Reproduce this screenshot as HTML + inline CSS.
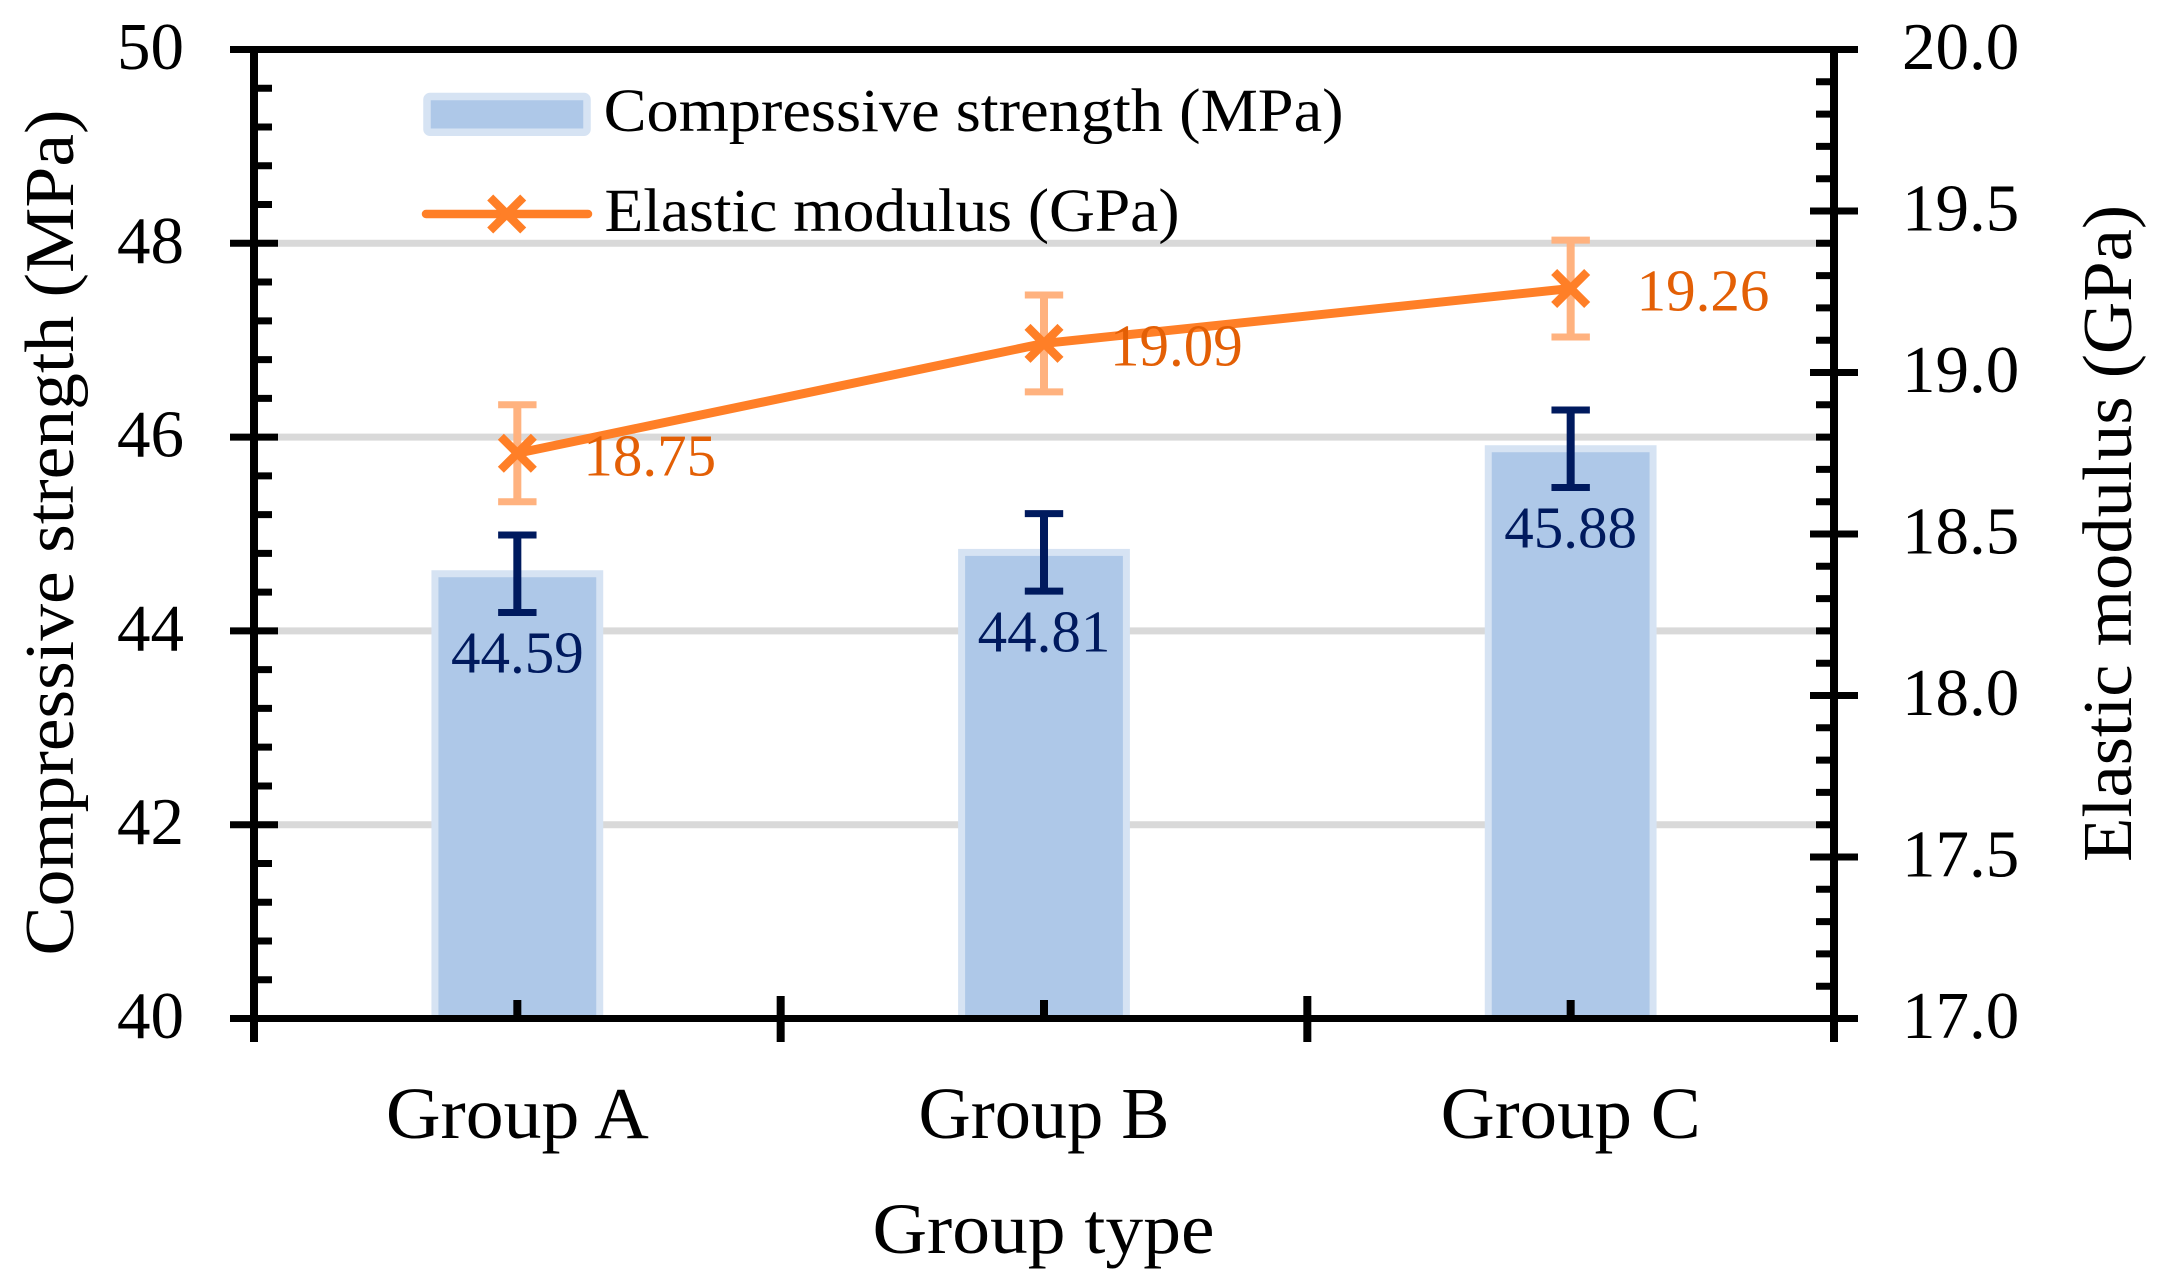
<!DOCTYPE html>
<html lang="en">
<head>
<meta charset="utf-8">
<title>Compressive strength and elastic modulus by group</title>
<style>
  html, body { margin: 0; padding: 0; background: #fff; width: 2160px; height: 1282px; overflow: hidden; }
  svg { display: block; }
  text { font-family: "Liberation Serif", serif; fill: #000; }
</style>
</head>
<body>
<svg id="chart" xmlns="http://www.w3.org/2000/svg" width="2160" height="1282" viewBox="0 0 2160 1282">
  <g id="grid"></g>
  <g id="bars"></g>
  <g id="barErrors"></g>
  <g id="lineErrors"></g>
  <g id="lineLayer"></g>
  <g id="axes"></g>
  <g id="labels"></g>

  <text transform="translate(73,532.5) rotate(-90)" text-anchor="middle" font-size="70" textLength="846" lengthAdjust="spacingAndGlyphs">Compressive strength (MPa)</text>
  <text transform="translate(2131,533.5) rotate(-90)" text-anchor="middle" font-size="70" textLength="657" lengthAdjust="spacingAndGlyphs">Elastic modulus (GPa)</text>
  <text x="1043.5" y="1253" text-anchor="middle" font-size="72" textLength="342" lengthAdjust="spacingAndGlyphs">Group type</text>

  <g>
    <g>
      <rect x="427" y="96.5" width="160" height="35.7" rx="3" fill="#aec8e8" stroke="#d6e3f3" stroke-width="7.5"/>
      <text x="603.6" y="131" font-size="61" textLength="740" lengthAdjust="spacingAndGlyphs">Compressive strength (MPa)</text>
    </g>
    <g>
      <line x1="426" y1="214" x2="588" y2="214" stroke="#ff7f27" stroke-width="8.5" stroke-linecap="round"/>
      <path d="M490.2 197.5L523.2 230.5M523.2 197.5L490.2 230.5" fill="none" stroke="#ff7f27" stroke-width="8.5"/>
      <text x="604.5" y="231" font-size="61" textLength="575" lengthAdjust="spacingAndGlyphs">Elastic modulus (GPa)</text>
    </g>
  </g>
</svg>

<script>
// Chart data
var categories = ['Group A', 'Group B', 'Group C'];
var strengthValues = [44.59, 44.81, 45.88];
var strengthErrors = [0.4, 0.4, 0.4];
var modulusValues = [18.75, 19.09, 19.26];
var modulusErrors = [0.15, 0.15, 0.15];
var leftTickLabels = ['40', '42', '44', '46', '48', '50'];
var rightTickLabels = ['17.0', '17.5', '18.0', '18.5', '19.0', '19.5', '20.0'];

// Axis functions
var plotLeft = 254, plotRight = 1834, plotTop = 49.5, plotBottom = 1018.5;
function yLeft(v) { return plotBottom + (v - 40) / 10 * (plotTop - plotBottom); }
function yRight(v) { return plotBottom + (v - 17) / 3 * (plotTop - plotBottom); }
function xBand(i) { return plotLeft + (i + 0.5) * (plotRight - plotLeft) / categories.length; }

var NS = 'http://www.w3.org/2000/svg';
function make(tag, attrs, parent) {
  var n = document.createElementNS(NS, tag);
  for (var k in attrs) n.setAttribute(k, attrs[k]);
  parent.appendChild(n);
  return n;
}
var grid = document.getElementById('grid');
var bars = document.getElementById('bars');
var barErrors = document.getElementById('barErrors');
var lineErrors = document.getElementById('lineErrors');
var lineLayer = document.getElementById('lineLayer');
var axes = document.getElementById('axes');
var labels = document.getElementById('labels');
var el;

// Gridlines
[42, 44, 46, 48].forEach(function (v) {
  el = make('line', { x1: plotLeft, x2: plotRight, y1: yLeft(v), y2: yLeft(v), stroke: '#d9d9d9', 'stroke-width': 7 }, grid);
  
  
});

function errorBar(parent, x, yTop, yBottom, color, name) {
  var stem = make('line', { x1: x, x2: x, y1: yTop, y2: yBottom, stroke: color, 'stroke-width': 8 }, parent);
  
  
  var d = 'M' + (x - 19.2) + ' ' + yTop + 'H' + (x + 19.2) +
          'M' + (x - 19.2) + ' ' + yBottom + 'H' + (x + 19.2);
  var caps = make('path', { d: d, fill: 'none', stroke: color, 'stroke-width': 7 }, parent);
  
  
}

// Bars, error bars and bar labels
var barW = 164.8;
strengthValues.forEach(function (v, i) {
  var x = xBand(i), y = yLeft(v);
  el = make('rect', { x: x - barW / 2, y: y, width: barW, height: plotBottom - y, fill: '#aec8e8', stroke: '#d6e3f3', 'stroke-width': 7 }, bars);
  
  
  errorBar(barErrors, x, yLeft(v + strengthErrors[i]), yLeft(v - strengthErrors[i]), '#001a5e', 'strength-error-bar');
  el = make('text', { x: x, y: y + 99, 'text-anchor': 'middle', 'font-size': 59, style: 'fill:#001a5e' }, labels);
  
  
  el.textContent = v.toFixed(2);
});

// Modulus series
var pts = modulusValues.map(function (v, i) { return xBand(i) + ',' + yRight(v); }).join(' ');
modulusValues.forEach(function (v, i) {
  errorBar(lineErrors, xBand(i), yRight(v + modulusErrors[i]), yRight(v - modulusErrors[i]), '#ffb27f', 'modulus-error-bar');
});
el = make('polyline', { points: pts, fill: 'none', stroke: '#ff7f27', 'stroke-width': 9, 'stroke-linejoin': 'round' }, lineLayer);


modulusValues.forEach(function (v, i) {
  var x = xBand(i), y = yRight(v), h = 16.5;
  el = make('path', { d: 'M' + (x - h) + ' ' + (y - h) + 'L' + (x + h) + ' ' + (y + h) + 'M' + (x + h) + ' ' + (y - h) + 'L' + (x - h) + ' ' + (y + h), fill: 'none', stroke: '#ff7f27', 'stroke-width': 8.5 }, lineLayer);
  
  
  el = make('text', { x: x + 66, y: y + 22, 'font-size': 59, style: 'fill:#e35f05' }, labels);
  
  
  el.textContent = v.toFixed(2);
});

function axisLine(x1, y1, x2, y2, name, w) {
  var l = make('line', { x1: x1, y1: y1, x2: x2, y2: y2, stroke: '#000', 'stroke-width': w || 7 }, axes);
  
  
}

// Spines
axisLine(plotLeft, plotTop - 3.5, plotLeft, 1042, 'left-spine', 8);
axisLine(plotRight, plotTop - 3.5, plotRight, 1042, 'right-spine', 8);
axisLine(230, plotTop, 1858, plotTop, 'top-spine');
axisLine(230, plotBottom, 1858, plotBottom, 'bottom-spine');

// Left axis ticks
leftTickLabels.forEach(function (t, i) {
  var v = parseFloat(t), y = yLeft(v);
  axisLine(230, y, 278, y, 'left-major-tick');
  el = make('text', { x: 184, y: y + 19.5, 'text-anchor': 'end', 'font-size': 67 }, axes);
  
  
  el.textContent = t;
  if (i < leftTickLabels.length - 1) {
    for (var m = 1; m < 5; m++) {
      axisLine(plotLeft, yLeft(v + m * 0.4), 272, yLeft(v + m * 0.4), 'left-minor-tick');
    }
  }
});

// Right axis ticks
rightTickLabels.forEach(function (t, i) {
  var v = parseFloat(t), y = yRight(v);
  axisLine(1810, y, 1858, y, 'right-major-tick');
  el = make('text', { x: 1902, y: y + 19.5, 'font-size': 67 }, axes);
  
  
  el.textContent = t;
  if (i < rightTickLabels.length - 1) {
    for (var m = 1; m < 5; m++) {
      axisLine(1816, yRight(v + m * 0.1), plotRight, yRight(v + m * 0.1), 'right-minor-tick');
    }
  }
});

// X axis ticks and labels
var xLabelFit = { 'Group A': 263, 'Group B': 251, 'Group C': 260 };
categories.forEach(function (c, i) {
  var x = xBand(i);
  axisLine(x, 1000, x, plotBottom, 'x-minor-tick', 8);
  if (i > 0) {
    var b = plotLeft + i * (plotRight - plotLeft) / categories.length;
    axisLine(b, 996, b, 1042, 'x-major-tick', 8);
  }
  el = make('text', { x: x, y: 1138, 'text-anchor': 'middle', 'font-size': 73, textLength: xLabelFit[c] || 255, lengthAdjust: 'spacingAndGlyphs' }, axes);
  
  
  el.textContent = c;
});
</script>
</body>
</html>
